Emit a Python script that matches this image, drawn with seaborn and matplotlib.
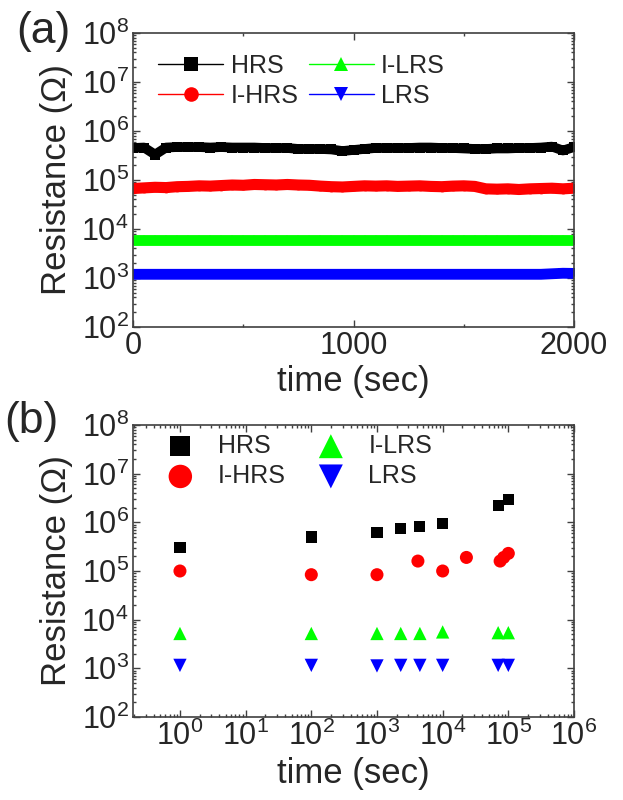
import numpy as np
import matplotlib
matplotlib.use("Agg")
import matplotlib.pyplot as plt
import seaborn as sns
from matplotlib.ticker import LogLocator, MultipleLocator, NullFormatter, FixedLocator

sns.set_style("ticks")
plt.rcParams["font.family"] = ["Liberation Sans", "DejaVu Sans"]
plt.rcParams["mathtext.fontset"] = "custom"
plt.rcParams["mathtext.rm"] = "Liberation Sans"
plt.rcParams["mathtext.it"] = "Liberation Sans:italic"
plt.rcParams["mathtext.default"] = "regular"

# ---------------- Panel (a) data ----------------
time_a = [0, 50, 100, 150, 200, 250, 300, 350, 400, 450, 500, 550, 600, 650, 700,
          750, 800, 850, 900, 950, 1000, 1050, 1100, 1150, 1200, 1250, 1300, 1350,
          1400, 1450, 1500, 1550, 1600, 1650, 1700, 1750, 1800, 1850, 1900, 1950, 2000]
hrs_a = [4.5e5, 4.6e5, 3.3e5, 4.6e5, 4.7e5, 4.7e5, 4.7e5, 4.6e5, 4.7e5, 4.6e5, 4.6e5,
         4.6e5, 4.5e5, 4.5e5, 4.5e5, 4.3e5, 4.3e5, 4.3e5, 4.2e5, 3.9e5, 4.1e5, 4.3e5,
         4.5e5, 4.5e5, 4.5e5, 4.5e5, 4.6e5, 4.6e5, 4.5e5, 4.5e5, 4.4e5, 4.3e5, 4.3e5,
         4.4e5, 4.4e5, 4.5e5, 4.5e5, 4.6e5, 4.8e5, 4.0e5, 4.7e5]
ihrs_a = [6.7e4, 6.9e4, 7.1e4, 7.0e4, 7.3e4, 7.4e4, 7.6e4, 7.5e4, 7.7e4, 7.9e4, 7.8e4,
          8.1e4, 8.0e4, 7.9e4, 8.1e4, 7.9e4, 7.8e4, 7.5e4, 7.3e4, 7.2e4, 7.4e4, 7.6e4,
          7.5e4, 7.6e4, 7.4e4, 7.5e4, 7.6e4, 7.4e4, 7.3e4, 7.5e4, 7.6e4, 7.4e4, 6.6e4,
          6.5e4, 6.6e4, 6.4e4, 6.6e4, 6.7e4, 6.8e4, 6.6e4, 6.8e4]
ilrs_a = [6.0e3, 6.0e3, 6.0e3, 6.0e3, 6.0e3, 6.0e3, 6.0e3, 6.0e3, 6.0e3, 6.0e3, 6.0e3,
          6.0e3, 6.0e3, 6.0e3, 6.0e3, 6.0e3, 6.0e3, 6.0e3, 6.0e3, 6.0e3, 6.0e3, 6.0e3,
          6.0e3, 6.0e3, 6.0e3, 6.0e3, 6.0e3, 6.0e3, 6.0e3, 6.0e3, 6.0e3, 6.0e3, 6.0e3,
          6.0e3, 6.0e3, 6.0e3, 6.0e3, 6.0e3, 6.0e3, 6.0e3, 6.0e3]
lrs_a = [1.19e3, 1.19e3, 1.19e3, 1.19e3, 1.19e3, 1.19e3, 1.19e3, 1.19e3, 1.19e3, 1.19e3,
         1.19e3, 1.19e3, 1.19e3, 1.19e3, 1.19e3, 1.19e3, 1.19e3, 1.19e3, 1.19e3, 1.19e3,
         1.19e3, 1.19e3, 1.19e3, 1.19e3, 1.19e3, 1.19e3, 1.19e3, 1.19e3, 1.19e3, 1.19e3,
         1.19e3, 1.19e3, 1.19e3, 1.19e3, 1.19e3, 1.19e3, 1.19e3, 1.19e3, 1.22e3, 1.25e3, 1.24e3]

# ---------------- Panel (b) data ----------------
time_b = [1, 100, 1000, 2300, 4500, 10000, 70000, 100000]
hrs_b = [3.0e5, 5.0e5, 6.2e5, 7.4e5, 8.1e5, 9.5e5, 2.2e6, 2.9e6]
ilrs_b = [5.2e3, 5.2e3, 5.2e3, 5.2e3, 5.2e3, 5.6e3, 5.4e3, 5.4e3]
lrs_b = [1.15e3, 1.15e3, 1.12e3, 1.15e3, 1.15e3, 1.15e3, 1.15e3, 1.15e3]
time_b_ihrs = [1, 100, 1000, 4200, 10000, 23000, 75000, 85000, 100000]
ihrs_b = [1.0e5, 8.4e4, 8.4e4, 1.6e5, 1.0e5, 1.9e5, 1.6e5, 1.9e5, 2.3e5]

names = ["HRS", "I-HRS", "I-LRS", "LRS"]
colors = ["#000000", "#FF0000", "#00FF00", "#0000FF"]
markers = ["s", "o", "^", "v"]

W, H = 623, 800
fig = plt.figure(figsize=(W / 100, H / 100), dpi=100)
ax_a = fig.add_axes([133 / W, 1 - 327 / H, 441 / W, 294 / H])
ax_b = fig.add_axes([133 / W, 1 - 717 / H, 441 / W, 292 / H])

# ---- panel (a) ----
series_a = [hrs_a, ihrs_a, ilrs_a, lrs_a]
band_lw = [7.0, 8.0, 7.8, 7.8]
handles_a = []
for vals, name, c, m, blw in zip(series_a, names, colors, markers, band_lw):
    sns.lineplot(x=time_a, y=vals, ax=ax_a, color=c, linewidth=blw,
                 errorbar=None, solid_capstyle="butt")
    sns.lineplot(x=time_a, y=vals, ax=ax_a, color=c, linewidth=1.0, marker=m,
                 markersize=7, markeredgewidth=0, errorbar=None, label=name)
    handles_a.append(ax_a.lines[-1])

ax_a.set_yscale("log")
ax_a.set_xlim(0, 2000)
ax_a.set_ylim(1e2, 1e8)
ax_a.xaxis.set_major_locator(FixedLocator([0, 1000, 2000]))
ax_a.xaxis.set_minor_locator(MultipleLocator(500))

# ---- panel (b) ----
sns.scatterplot(x=time_b, y=hrs_b, ax=ax_b, color=colors[0], marker="s", s=64,
                linewidth=0, edgecolor="none", label="HRS")
sns.scatterplot(x=time_b_ihrs, y=ihrs_b, ax=ax_b, color=colors[1], marker="o", s=88,
                linewidth=0, edgecolor="none", label="I-HRS")
sns.scatterplot(x=time_b, y=ilrs_b, ax=ax_b, color=colors[2], marker="^", s=92,
                linewidth=0, edgecolor="none", label="I-LRS")
sns.scatterplot(x=time_b, y=lrs_b, ax=ax_b, color=colors[3], marker="v", s=92,
                linewidth=0, edgecolor="none", label="LRS")

ax_b.set_xscale("log")
ax_b.set_yscale("log")
ax_b.set_xlim(10 ** -0.715, 1e6)
ax_b.set_ylim(1e2, 1e8)
ax_b.xaxis.set_major_locator(FixedLocator([1e0, 1e1, 1e2, 1e3, 1e4, 1e5, 1e6]))
ax_b.xaxis.set_minor_locator(LogLocator(base=10, subs=np.arange(2, 10), numticks=100))
ax_b.xaxis.set_minor_formatter(NullFormatter())

frame_col = "#404040"
for ax in (ax_a, ax_b):
    ax.yaxis.set_major_locator(FixedLocator([1e2, 1e3, 1e4, 1e5, 1e6, 1e7, 1e8]))
    ax.yaxis.set_minor_locator(LogLocator(base=10, subs=np.arange(2, 10), numticks=100))
    ax.yaxis.set_minor_formatter(NullFormatter())
    ax.tick_params(which="both", direction="in", top=True, right=True,
                   color=frame_col, width=1.0)
    ax.tick_params(which="major", length=5, labelsize=22, pad=3)
    ax.tick_params(which="minor", length=2.5)
    for sp in ax.spines.values():
        sp.set_color(frame_col)
        sp.set_linewidth(1.2)
    ax.set_ylabel("Resistance (Ω)", fontsize=25, labelpad=6)
    ax.set_xlabel("time (sec)", fontsize=25, labelpad=3)

ax_a.legend(handles=handles_a, labels=names, loc="upper left",
            bbox_to_anchor=(0.057, 0.93), ncol=2, frameon=False, fontsize=18,
            borderpad=0, borderaxespad=0, handlelength=2.6, handletextpad=0.3,
            columnspacing=0.4, labelspacing=0.25, markerscale=1.5)

hb, lb = ax_b.get_legend_handles_labels()
ax_b.legend(handles=hb, labels=lb, loc="upper left",
            bbox_to_anchor=(0.079, 0.97), ncol=2, frameon=False, fontsize=18,
            borderpad=0, borderaxespad=0, handlelength=1.0, handletextpad=1.0,
            columnspacing=1.3, labelspacing=0.25, markerscale=1.8)

fig.text(16 / W, 1 - 32 / H, "(a)", fontsize=32, ha="left", va="center")
fig.text(4 / W, 1 - 421 / H, "(b)", fontsize=32, ha="left", va="center")

fig.savefig("out.png", dpi=100)
